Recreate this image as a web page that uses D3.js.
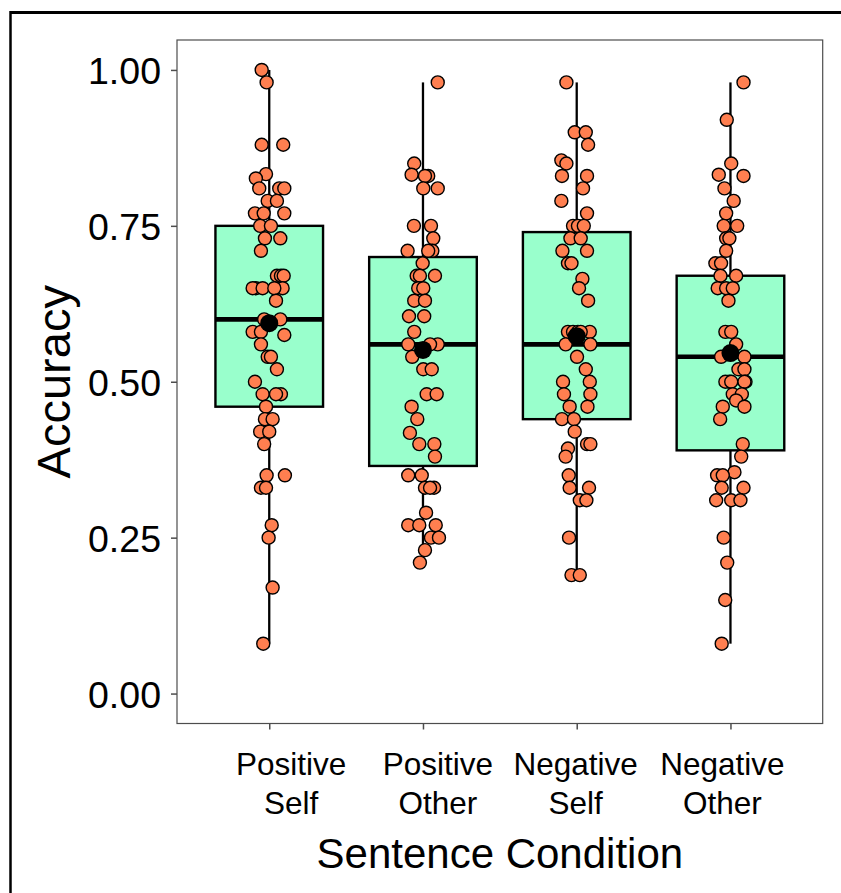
<!DOCTYPE html>
<html>
<head>
<meta charset="utf-8">
<script src="https://cdn.jsdelivr.net/npm/d3@7"></script>
<style>
  html, body { margin: 0; padding: 0; background: #fff; }
  svg { display: block; }
  text { font-family: "Liberation Sans", Arial, Helvetica, sans-serif; fill: #000; }
</style>
</head>
<body>
<svg id="chart" width="841" height="893"></svg>
<script>
// ---------- data ----------
const categories = [["Positive", "Self"], ["Positive", "Other"], ["Negative", "Self"], ["Negative", "Other"]];
const yTicks = [0, 0.25, 0.5, 0.75, 1.0];
const yTickLabels = ["0.00", "0.25", "0.50", "0.75", "1.00"];
const yTitle = "Accuracy";
const xTitle = "Sentence Condition";

// box statistics
const q1 = [0.46, 0.365, 0.44, 0.39];
const medians = [0.60, 0.56, 0.56, 0.54];
const q3 = [0.75, 0.70, 0.74, 0.67];
const whiskerLow = [0.08, 0.21, 0.19, 0.08];
const whiskerHigh = [1.00, 0.98, 0.98, 0.98];
const means = [0.594, 0.551, 0.573, 0.546];

// individual observations: [accuracy, horizontal jitter in category units]
const positiveSelf = [
  [1.00,-0.049],[0.98,-0.017],[0.88,-0.049],[0.88,0.091],[0.833,-0.021],[0.826,-0.087],
  [0.81,-0.065],[0.81,0.065],[0.81,0.098],[0.79,-0.010],[0.79,0.050],[0.77,-0.093],
  [0.77,-0.036],[0.77,0.098],[0.75,-0.059],[0.75,0.011],[0.73,-0.028],[0.73,0.072],
  [0.71,-0.054],[0.67,0.050],[0.67,0.076],[0.67,0.094],[0.65,-0.087],[0.65,-0.108],
  [0.65,-0.043],[0.65,0.087],[0.65,0.033],[0.63,0.044],[0.60,0.072],[0.60,-0.033],
  [0.58,-0.108],[0.58,-0.054],[0.575,0.098],[0.56,-0.054],[0.54,-0.010],[0.54,0.011],
  [0.52,0.050],[0.50,-0.093],[0.48,-0.043],[0.48,0.076],[0.48,0.044],[0.46,-0.021],
  [0.44,-0.028],[0.44,0.022],[0.42,-0.059],[0.42,0.000],[0.40,-0.033],[0.35,-0.017],
  [0.35,0.102],[0.33,-0.054],[0.33,-0.021],[0.27,0.016],[0.25,-0.004],[0.17,0.022],
  [0.08,-0.039]
];
const positiveOther = [
  [0.98,0.096],[0.85,-0.057],[0.832,-0.074],[0.83,0.034],[0.83,0.013],[0.81,0.002],
  [0.81,0.096],[0.75,-0.059],[0.75,0.052],[0.73,0.067],[0.71,-0.100],[0.71,0.061],
  [0.71,0.034],[0.69,-0.002],[0.67,-0.041],[0.67,-0.020],[0.67,0.078],[0.65,-0.031],
  [0.65,0.002],[0.63,-0.057],[0.63,0.013],[0.605,-0.091],[0.605,0.008],[0.58,-0.057],
  [0.56,-0.096],[0.56,0.096],[0.56,0.046],[0.54,-0.070],[0.52,0.002],[0.52,0.057],
  [0.48,0.024],[0.48,0.089],[0.46,-0.074],[0.44,-0.037],[0.418,-0.085],[0.40,-0.024],
  [0.40,0.074],[0.38,0.078],[0.35,-0.096],[0.35,-0.008],[0.33,0.013],[0.33,0.072],
  [0.33,0.046],[0.29,0.020],[0.27,-0.096],[0.27,-0.024],[0.27,0.083],[0.25,0.052],
  [0.25,0.104],[0.23,0.013],[0.21,-0.020]
];
const negativeSelf = [
  [0.98,-0.067],[0.90,-0.013],[0.90,0.059],[0.88,0.074],[0.855,-0.100],[0.85,-0.067],
  [0.83,-0.096],[0.83,0.067],[0.81,0.041],[0.79,-0.100],[0.77,0.067],[0.75,-0.024],
  [0.75,0.008],[0.75,0.046],[0.73,-0.041],[0.73,0.026],[0.71,-0.093],[0.71,0.067],
  [0.69,-0.057],[0.69,-0.034],[0.665,0.037],[0.65,0.015],[0.63,0.074],[0.58,-0.057],
  [0.58,-0.024],[0.58,0.008],[0.58,0.085],[0.58,0.026],[0.56,-0.072],[0.56,0.089],
  [0.54,0.002],[0.52,0.059],[0.50,-0.089],[0.50,0.085],[0.48,-0.083],[0.48,0.089],
  [0.46,-0.046],[0.46,0.070],[0.44,-0.096],[0.44,-0.018],[0.42,-0.013],[0.393,-0.057],
  [0.40,0.067],[0.40,0.089],[0.38,-0.072],[0.35,-0.052],[0.33,-0.046],[0.33,0.080],
  [0.31,0.020],[0.31,0.063],[0.25,-0.050],[0.19,-0.034],[0.19,0.020]
];
const negativeOther = [
  [0.98,0.085],[0.92,-0.024],[0.85,0.005],[0.832,-0.076],[0.83,0.085],[0.81,-0.039],
  [0.79,0.021],[0.77,-0.028],[0.75,-0.044],[0.75,0.044],[0.73,-0.028],[0.73,-0.007],
  [0.71,-0.028],[0.69,-0.098],[0.69,-0.061],[0.67,-0.065],[0.67,0.037],[0.65,-0.083],
  [0.65,-0.028],[0.65,0.015],[0.63,-0.013],[0.58,-0.033],[0.58,0.005],[0.56,0.037],
  [0.54,-0.061],[0.54,0.091],[0.52,0.052],[0.52,0.091],[0.50,-0.007],[0.50,0.098],
  [0.50,-0.033],[0.50,0.005],[0.50,0.091],[0.48,0.015],[0.48,0.074],[0.47,0.037],
  [0.46,-0.050],[0.46,0.091],[0.44,-0.067],[0.40,0.080],[0.38,0.070],[0.35,-0.087],
  [0.355,0.026],[0.35,-0.050],[0.33,-0.057],[0.33,0.085],[0.31,-0.093],[0.31,0.005],
  [0.31,0.065],[0.25,-0.044],[0.21,-0.021],[0.15,-0.034],[0.08,-0.057]
];
const groups = [positiveSelf, positiveOther, negativeSelf, negativeOther];

// ---------- layout ----------
const svg = d3.select("#chart");
const panel = { left: 177, right: 822.7, top: 40, bottom: 723.5 };
const boxWidth = 0.7; // category units
const labelShift = [22, 15, -1, -8]; // horizontal nudges of the x tick labels (px)

const x = d3.scaleLinear().domain([0.4, 4.6]).range([panel.left, panel.right]);
const y = d3.scaleLinear().domain([-0.048, 1.048]).range([panel.bottom, panel.top]);

// outer frame
svg.append("line").attr("x1", 10.5).attr("x2", 841).attr("y1", 12.5).attr("y2", 12.5)
  .attr("stroke", "#000").attr("stroke-width", 3);
svg.append("line").attr("x1", 10.5).attr("x2", 10.5).attr("y1", 11).attr("y2", 893)
  .attr("stroke", "#000").attr("stroke-width", 2.5);

// panel border
svg.append("rect")
  .attr("x", panel.left).attr("y", panel.top)
  .attr("width", panel.right - panel.left).attr("height", panel.bottom - panel.top)
  .attr("fill", "none").attr("stroke", "#4d4d4d").attr("stroke-width", 1.2);

// y axis
const yAxis = d3.axisLeft(y).tickValues(yTicks).tickSize(6).tickPadding(10)
  .tickFormat((d, i) => yTickLabels[i]);
const gy = svg.append("g").attr("transform", `translate(${panel.left},0)`).call(yAxis);
gy.select(".domain").remove();
gy.selectAll(".tick line").attr("stroke", "#4d4d4d").attr("stroke-width", 1.5);
gy.selectAll(".tick text").style("font-size", "37.5px").attr("fill", "#000")
  .attr("font-family", "Liberation Sans, Arial, sans-serif").attr("dy", "0.36em");

// x axis
const xAxis = d3.axisBottom(x).tickValues([1, 2, 3, 4]).tickSize(6).tickFormat("");
const gx = svg.append("g").attr("transform", `translate(0,${panel.bottom})`).call(xAxis);
gx.select(".domain").remove();
gx.selectAll(".tick line").attr("stroke", "#4d4d4d").attr("stroke-width", 1.5);
categories.forEach((lines, i) => {
  const lx = x(i + 1) + labelShift[i];
  const t = svg.append("text").attr("x", lx).attr("y", 775)
    .attr("text-anchor", "middle").style("font-size", "31.5px");
  lines.forEach((ln, j) => {
    t.append("tspan").attr("x", lx).attr("dy", j === 0 ? 0 : 38.5).text(ln);
  });
});

// axis titles
svg.append("text").attr("x", (panel.left + panel.right) / 2).attr("y", 868)
  .attr("text-anchor", "middle").style("font-size", "42px").text(xTitle);
svg.append("text")
  .attr("transform", `translate(70,${(panel.top + panel.bottom) / 2}) rotate(-90)`)
  .attr("text-anchor", "middle").style("font-size", "47px").text(yTitle);

// boxplots
const half = boxWidth / 2;
const boxes = svg.append("g");
categories.forEach((c, i) => {
  const cx = x(i + 1);
  // whiskers
  boxes.append("line").attr("x1", cx).attr("x2", cx)
    .attr("y1", y(whiskerHigh[i])).attr("y2", y(q3[i]))
    .attr("stroke", "#000").attr("stroke-width", 2.3);
  boxes.append("line").attr("x1", cx).attr("x2", cx)
    .attr("y1", y(q1[i])).attr("y2", y(whiskerLow[i]))
    .attr("stroke", "#000").attr("stroke-width", 2.3);
  // box
  boxes.append("rect")
    .attr("x", x(i + 1 - half)).attr("y", y(q3[i]))
    .attr("width", x(i + 1 + half) - x(i + 1 - half))
    .attr("height", y(q1[i]) - y(q3[i]))
    .attr("fill", "#99FFCC").attr("stroke", "#000").attr("stroke-width", 2.4);
  // median
  boxes.append("line")
    .attr("x1", x(i + 1 - half)).attr("x2", x(i + 1 + half))
    .attr("y1", y(medians[i])).attr("y2", y(medians[i]))
    .attr("stroke", "#000").attr("stroke-width", 4.6);
});

// jittered points
const pts = svg.append("g");
groups.forEach((g, i) => {
  pts.selectAll(null).data(g).enter().append("circle")
    .attr("cx", d => x(i + 1 + d[1]))
    .attr("cy", d => y(d[0]))
    .attr("r", 6.5)
    .attr("fill", "#FF7F50")
    .attr("stroke", "#000")
    .attr("stroke-width", 1.4);
});

// means
svg.append("g").selectAll("circle").data(means).enter().append("circle")
  .attr("cx", (d, i) => x(i + 1))
  .attr("cy", d => y(d))
  .attr("r", 9)
  .attr("fill", "#000");
</script>
</body>
</html>
